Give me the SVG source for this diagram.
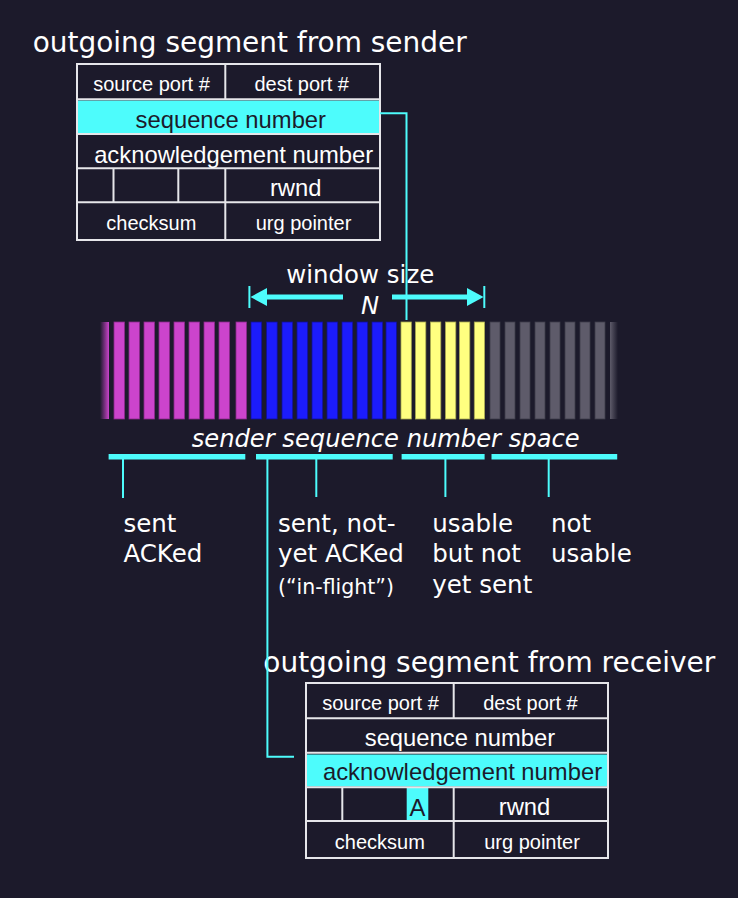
<svg xmlns="http://www.w3.org/2000/svg" width="738" height="898" viewBox="0 0 738 898">
<defs>
<style>
.bg{fill:#1c1a2b}
.title{font-family:"DejaVu Sans",Verdana,sans-serif;font-size:28px;fill:#ffffff}
.lbl{font-family:"DejaVu Sans",Verdana,sans-serif;font-size:24.5px;fill:#ffffff}
.small{font-family:"DejaVu Sans",Verdana,sans-serif;font-size:20.5px;fill:#ffffff}
.ital{font-family:"DejaVu Sans",Verdana,sans-serif;font-style:italic;font-size:24.2px;fill:#ffffff}
.tf{font-family:"Liberation Sans",Arial,sans-serif;font-size:20px;fill:#ffffff;text-anchor:middle}
.tb{font-family:"Liberation Sans",Arial,sans-serif;font-size:23.8px;fill:#ffffff;text-anchor:middle}
.dark{fill:#1c1a2b}
.cell{fill:none;stroke:#e6e6ea;stroke-width:2}
.hl{fill:#4dfcfc}
.conn{fill:none;stroke:#4dfcfc;stroke-width:2}
.cy{fill:#4dfcfc}
.m{fill:#cc44cc;stroke:#8a2a8a;stroke-width:0.8}
.b{fill:#1c1cfc;stroke:#10109a;stroke-width:0.8}
.y{fill:#ffff80;stroke:#a8a850;stroke-width:0.8}
.g{fill:#5e5b6a;stroke:#3e3c4a;stroke-width:0.8}
</style>
<linearGradient id="fadeL" x1="0" y1="0" x2="1" y2="0">
<stop offset="0" stop-color="#cc44cc" stop-opacity="0"/>
<stop offset="1" stop-color="#cc44cc" stop-opacity="1"/>
</linearGradient>
<linearGradient id="fadeR" x1="0" y1="0" x2="1" y2="0">
<stop offset="0" stop-color="#5e5b6a" stop-opacity="1"/>
<stop offset="1" stop-color="#5e5b6a" stop-opacity="0"/>
</linearGradient>
</defs>
<rect class="bg" x="0" y="0" width="738" height="898"/>

<g id="title-sender">
<text class="title" x="32.7" y="52" textLength="434" lengthAdjust="spacingAndGlyphs">outgoing segment from sender</text>
</g>

<g id="sender-segment">
<rect class="hl" x="78" y="100.5" width="301" height="32.5"/>
<rect class="cell" x="77" y="64" width="303" height="176"/>
<line class="cell" x1="77" y1="99.3" x2="380" y2="99.3"/>
<line class="cell" x1="77" y1="134" x2="380" y2="134"/>
<line class="cell" x1="77" y1="168.3" x2="380" y2="168.3"/>
<line class="cell" x1="77" y1="202.3" x2="380" y2="202.3"/>
<line class="cell" x1="225.3" y1="64" x2="225.3" y2="99.3"/>
<line class="cell" x1="225.3" y1="168.3" x2="225.3" y2="240"/>
<line class="cell" x1="113.5" y1="168.3" x2="113.5" y2="202.3"/>
<line class="cell" x1="178.3" y1="168.3" x2="178.3" y2="202.3"/>
<text class="tf" x="151.5" y="90.7">source port #</text>
<text class="tf" x="301.7" y="90.7">dest port #</text>
<text class="tb dark" x="230.8" y="127.5">sequence number</text>
<text class="tb" x="233.7" y="162.5">acknowledgement number</text>
<text class="tb" x="295.7" y="196" font-size="23">rwnd</text>
<text class="tf" x="151.3" y="230">checksum</text>
<text class="tf" x="303.5" y="230">urg pointer</text>
</g>

<g id="window-size">
<text class="lbl" x="286.3" y="283" font-size="25" textLength="148" lengthAdjust="spacingAndGlyphs">window size</text>
<text class="ital" x="370" y="314" font-size="26" text-anchor="middle">N</text>
<line class="conn" x1="249.4" y1="286" x2="249.4" y2="308" stroke-width="1.6"/>
<line class="conn" x1="484.3" y1="286" x2="484.3" y2="308" stroke-width="1.6"/>
<rect class="cy" x="265" y="294.5" width="78" height="5"/>
<polygon class="cy" points="250.5,297 267,288 267,306"/>
<rect class="cy" x="392" y="294.5" width="77" height="5"/>
<polygon class="cy" points="483.6,297 467,288 467,306"/>
</g>

<g id="sequence-space">
<rect x="100" y="322" width="9" height="97" fill="url(#fadeL)"/>
<rect class="m" x="114" y="322" width="10.5" height="97"/>
<rect class="m" x="129" y="322" width="10.5" height="97"/>
<rect class="m" x="144" y="322" width="10.5" height="97"/>
<rect class="m" x="159" y="322" width="10.5" height="97"/>
<rect class="m" x="174" y="322" width="10.5" height="97"/>
<rect class="m" x="189" y="322" width="10.5" height="97"/>
<rect class="m" x="204" y="322" width="10.5" height="97"/>
<rect class="m" x="219" y="322" width="10.5" height="97"/>
<rect class="m" x="236" y="322" width="10.5" height="97"/>
<rect class="b" x="251" y="322" width="10.7" height="97"/>
<rect class="b" x="266.5" y="322" width="10.7" height="97"/>
<rect class="b" x="282" y="322" width="10.7" height="97"/>
<rect class="b" x="297" y="322" width="10.7" height="97"/>
<rect class="b" x="312" y="322" width="10.7" height="97"/>
<rect class="b" x="327" y="322" width="10.7" height="97"/>
<rect class="b" x="342" y="322" width="10.7" height="97"/>
<rect class="b" x="357" y="322" width="10.7" height="97"/>
<rect class="b" x="372" y="322" width="10.7" height="97"/>
<rect class="b" x="386" y="322" width="10.5" height="97"/>
<rect class="y" x="401" y="322" width="10.3" height="97"/>
<rect class="y" x="415.5" y="322" width="10.3" height="97"/>
<rect class="y" x="430.5" y="322" width="10.3" height="97"/>
<rect class="y" x="445.5" y="322" width="10.3" height="97"/>
<rect class="y" x="459.5" y="322" width="10.3" height="97"/>
<rect class="y" x="474.3" y="322" width="10.3" height="97"/>
<rect class="g" x="490" y="322" width="10" height="97"/>
<rect class="g" x="505" y="322" width="10" height="97"/>
<rect class="g" x="520" y="322" width="10" height="97"/>
<rect class="g" x="535" y="322" width="10" height="97"/>
<rect class="g" x="550" y="322" width="10" height="97"/>
<rect class="g" x="565" y="322" width="10" height="97"/>
<rect class="g" x="580" y="322" width="10" height="97"/>
<rect class="g" x="595" y="322" width="10" height="97"/>
<rect x="610" y="322" width="8" height="97" fill="url(#fadeR)"/>
<text class="ital" x="191.7" y="446.7" textLength="388" lengthAdjust="spacingAndGlyphs">sender sequence number space</text>
</g>

<g id="range-bars">
<rect class="cy" x="108.6" y="454" width="136.7" height="5.5"/>
<rect class="cy" x="256" y="454" width="136.7" height="5.5"/>
<rect class="cy" x="401.6" y="454" width="83" height="5.5"/>
<rect class="cy" x="491.5" y="454" width="125.7" height="5.5"/>
<line class="conn" x1="123" y1="459" x2="123" y2="498"/>
<line class="conn" x1="316.3" y1="459" x2="316.3" y2="497"/>
<line class="conn" x1="445.4" y1="459" x2="445.4" y2="497"/>
<line class="conn" x1="548.7" y1="459" x2="548.7" y2="497"/>
</g>

<g id="label-sent-acked">
<text class="lbl" x="123.4" y="531.5">sent</text>
<text class="lbl" x="123.4" y="562">ACKed</text>
</g>
<g id="label-in-flight">
<text class="lbl" x="278" y="531.5">sent, not-</text>
<text class="lbl" x="278" y="562">yet ACKed</text>
<text class="small" x="278" y="594">(“in-flight”)</text>
</g>
<g id="label-usable">
<text class="lbl" x="432.3" y="531.5">usable</text>
<text class="lbl" x="432.3" y="562">but not</text>
<text class="lbl" x="432.3" y="592.5">yet sent</text>
</g>
<g id="label-not-usable">
<text class="lbl" x="551" y="531.5">not</text>
<text class="lbl" x="551" y="562">usable</text>
</g>

<g id="title-receiver">
<text class="title" x="263.3" y="671.5" textLength="452" lengthAdjust="spacingAndGlyphs">outgoing segment from receiver</text>
</g>

<g id="receiver-segment">
<rect class="hl" x="307" y="754.5" width="300" height="32"/>
<rect class="hl" x="406.7" y="788" width="21.6" height="32.5"/>
<rect class="cell" x="306" y="683" width="302" height="175"/>
<line class="cell" x1="306" y1="718.3" x2="608" y2="718.3"/>
<line class="cell" x1="306" y1="752.7" x2="608" y2="752.7"/>
<line class="cell" x1="306" y1="787.3" x2="608" y2="787.3"/>
<line class="cell" x1="306" y1="821" x2="608" y2="821"/>
<line class="cell" x1="453.7" y1="683" x2="453.7" y2="718.3"/>
<line class="cell" x1="453.7" y1="787.3" x2="453.7" y2="858"/>
<line class="cell" x1="342.3" y1="787.3" x2="342.3" y2="821"/>
<text class="tf" x="380.5" y="710">source port #</text>
<text class="tf" x="530.5" y="710">dest port #</text>
<text class="tb" x="460" y="746.2">sequence number</text>
<text class="tb dark" x="462.5" y="780.2">acknowledgement number</text>
<text class="tb dark" x="417.5" y="815.5" font-size="25">A</text>
<text class="tb" x="524.5" y="814.5" font-size="23">rwnd</text>
<text class="tf" x="379.8" y="849">checksum</text>
<text class="tf" x="532" y="849">urg pointer</text>
</g>

<g id="connectors">
<path class="conn" d="M380,113.3 H406.5 V320"/>
<path class="conn" d="M267.4,459 V756.7 H294"/>
</g>
</svg>
